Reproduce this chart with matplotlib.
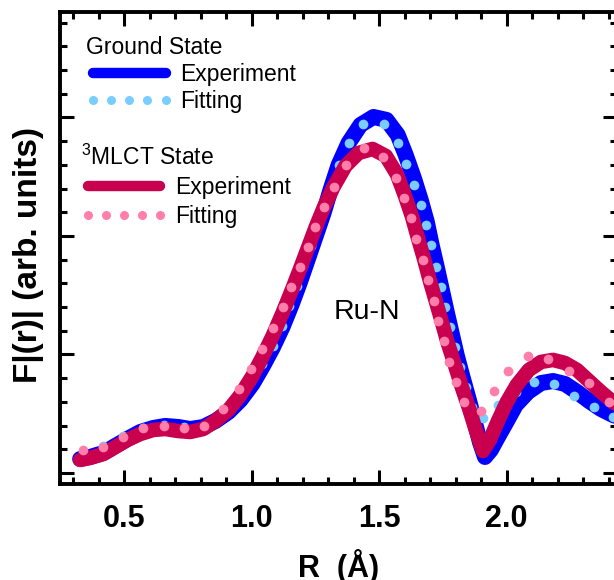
import matplotlib
matplotlib.use('Agg')
import matplotlib.pyplot as plt
from matplotlib.lines import Line2D
from matplotlib.ticker import MultipleLocator, FormatStrFormatter

plt.rcParams['font.family'] = ['Liberation Sans', 'DejaVu Sans']
plt.rcParams['mathtext.fontset'] = 'custom'
plt.rcParams['mathtext.rm'] = 'Liberation Sans'
plt.rcParams['mathtext.it'] = 'Liberation Sans:italic'
plt.rcParams['mathtext.bf'] = 'Liberation Sans:bold'

# Ground state, experiment (thick blue line)
r_gs_exp = [0.327, 0.366, 0.418, 0.465, 0.512, 0.563, 0.614, 0.661, 0.712, 0.759,
            0.810, 0.858, 0.909, 0.956, 1.003, 1.042, 1.082, 1.121, 1.156, 1.188,
            1.219, 1.250, 1.282, 1.309, 1.341, 1.380, 1.427, 1.478, 1.529, 1.573,
            1.604, 1.636, 1.663, 1.687, 1.706, 1.726, 1.746, 1.765, 1.785, 1.805,
            1.828, 1.852, 1.875, 1.895, 1.915, 1.938, 1.966, 1.997, 2.036, 2.084,
            2.135, 2.182, 2.229, 2.276, 2.323, 2.370, 2.417, 2.449]
f_gs_exp = [0.118, 0.135, 0.169, 0.228, 0.287, 0.346, 0.380, 0.397, 0.388, 0.371,
            0.388, 0.439, 0.515, 0.616, 0.751, 0.895, 1.055, 1.232, 1.418, 1.603,
            1.797, 1.992, 2.194, 2.388, 2.599, 2.785, 2.937, 3.004, 2.979, 2.852,
            2.684, 2.489, 2.304, 2.118, 1.924, 1.738, 1.544, 1.359, 1.173, 0.987,
            0.802, 0.616, 0.430, 0.262, 0.135, 0.194, 0.304, 0.422, 0.574, 0.684,
            0.759, 0.776, 0.751, 0.684, 0.608, 0.540, 0.489, 0.464]

# Ground state, fitting (light blue dots)
r_gs_fit = [0.339, 0.418, 0.496, 0.575, 0.657, 0.736, 0.814, 0.889, 0.952, 0.999,
            1.042, 1.082, 1.117, 1.148, 1.176, 1.203, 1.231, 1.258, 1.286, 1.313,
            1.341, 1.380, 1.435, 1.518, 1.573, 1.604, 1.636, 1.663, 1.683, 1.702,
            1.722, 1.742, 1.757, 1.777, 1.797, 1.816, 1.840, 1.863, 1.907, 1.966,
            2.036, 2.107, 2.186, 2.264, 2.343, 2.417]
f_gs_fit = [0.177, 0.228, 0.312, 0.380, 0.405, 0.388, 0.397, 0.506, 0.641, 0.776,
            0.920, 1.072, 1.241, 1.409, 1.578, 1.747, 1.916, 2.084, 2.253, 2.422,
            2.599, 2.785, 2.945, 2.945, 2.785, 2.608, 2.430, 2.262, 2.093, 1.924,
            1.738, 1.570, 1.401, 1.232, 1.063, 0.895, 0.726, 0.557, 0.464, 0.574,
            0.684, 0.768, 0.751, 0.650, 0.557, 0.473]

# 3MLCT state, experiment (thick crimson line)
r_ml_exp = [0.327, 0.366, 0.418, 0.465, 0.512, 0.563, 0.614, 0.661, 0.712, 0.759,
            0.810, 0.858, 0.909, 0.956, 1.003, 1.042, 1.082, 1.121, 1.156, 1.188,
            1.219, 1.250, 1.282, 1.321, 1.368, 1.419, 1.474, 1.526, 1.569, 1.600,
            1.628, 1.651, 1.675, 1.698, 1.722, 1.746, 1.769, 1.797, 1.824, 1.852,
            1.879, 1.907, 1.934, 1.966, 2.001, 2.040, 2.087, 2.135, 2.182, 2.229,
            2.276, 2.323, 2.370, 2.417, 2.449]
f_ml_exp = [0.110, 0.127, 0.160, 0.219, 0.278, 0.329, 0.363, 0.371, 0.354, 0.346,
            0.371, 0.439, 0.532, 0.658, 0.819, 0.979, 1.156, 1.350, 1.536, 1.713,
            1.890, 2.068, 2.236, 2.414, 2.591, 2.700, 2.734, 2.675, 2.523, 2.346,
            2.169, 1.992, 1.814, 1.629, 1.451, 1.274, 1.097, 0.911, 0.726, 0.549,
            0.363, 0.186, 0.278, 0.439, 0.599, 0.743, 0.869, 0.937, 0.954, 0.928,
            0.869, 0.776, 0.684, 0.599, 0.549]

# 3MLCT state, fitting (pink dots)
r_ml_fit = [0.339, 0.418, 0.496, 0.575, 0.657, 0.736, 0.814, 0.889, 0.952, 0.999,
            1.042, 1.082, 1.121, 1.156, 1.188, 1.219, 1.250, 1.282, 1.321, 1.368,
            1.439, 1.514, 1.565, 1.596, 1.624, 1.643, 1.671, 1.691, 1.714, 1.730,
            1.754, 1.773, 1.801, 1.832, 1.899, 1.950, 2.005, 2.084, 2.162, 2.245,
            2.323, 2.402]
f_ml_fit = [0.194, 0.219, 0.304, 0.380, 0.397, 0.380, 0.397, 0.540, 0.709, 0.878,
            1.046, 1.224, 1.401, 1.570, 1.738, 1.907, 2.076, 2.245, 2.414, 2.599,
            2.743, 2.667, 2.489, 2.321, 2.152, 1.975, 1.797, 1.629, 1.451, 1.283,
            1.114, 0.937, 0.768, 0.599, 0.523, 0.692, 0.861, 0.987, 0.962, 0.861,
            0.759, 0.599]

c_blue = '#0000FF'
c_lblue = '#7ACDFF'
c_red = '#C8004E'
c_pink = '#FF7FAA'

fig = plt.figure(figsize=(6.14, 5.8), dpi=100)
ax = fig.add_axes([0.0977, 0.1647, 0.9072, 0.8147])

ax.plot(r_gs_exp, f_gs_exp, color=c_blue, lw=11.5, solid_capstyle='round',
        solid_joinstyle='round', zorder=2)
ax.plot(r_gs_fit, f_gs_fit, ls='none', marker='o', ms=7, mfc=c_lblue, mec='none', zorder=3)
ax.plot(r_ml_exp, f_ml_exp, color=c_red, lw=10.5, solid_capstyle='round',
        solid_joinstyle='round', zorder=4)
ax.plot(r_ml_fit, f_ml_fit, ls='none', marker='o', ms=7, mfc=c_pink, mec='none', zorder=5)

ax.text(1.451, 1.36, 'Ru-N', fontsize=20.5, ha='center', va='center')

ax.set_xlim(0.248, 2.433)
ax.set_ylim(-0.097, 3.89)
ax.xaxis.set_major_locator(MultipleLocator(0.5))
ax.xaxis.set_minor_locator(MultipleLocator(0.1))
ax.xaxis.set_major_formatter(FormatStrFormatter('%.1f'))
ax.yaxis.set_major_locator(MultipleLocator(1))
ax.yaxis.set_minor_locator(MultipleLocator(0.2))
ax.tick_params(which='both', direction='in', top=True, right=True, width=2.2,
               labelleft=False, labelsize=22, pad=14)
ax.tick_params(which='major', length=10)
ax.tick_params(which='minor', length=5)
for lab in ax.get_xticklabels():
    lab.set_fontweight('bold')
for sp in ax.spines.values():
    sp.set_linewidth(2.8)

ax.set_xlabel('R  (\u00c5)', fontsize=22, fontweight='bold', labelpad=11)
ax.set_ylabel('F|(r)| (arb. units)', fontsize=24, fontweight='bold')
ax.yaxis.set_label_coords(-0.029, 0.486)

# two little legends, one per state
gs_handles = [Line2D([], [], color=c_blue, lw=7.5, solid_capstyle='round'),
              Line2D([], [], ls='none', marker='o', ms=6.5, mfc=c_lblue, mec='none')]
ml_handles = [Line2D([], [], color=c_red, lw=7.5, solid_capstyle='round'),
              Line2D([], [], ls='none', marker='o', ms=6.5, mfc=c_pink, mec='none')]
leg1 = ax.legend(gs_handles, ['Experiment', 'Fitting'], title='Ground State',
                 loc='upper left', bbox_to_anchor=(0.0475, 0.9492), frameon=False,
                 fontsize=16.5, title_fontsize=16.5, numpoints=5, handlelength=3.75,
                 handletextpad=0.35, labelspacing=0.17, borderpad=0, borderaxespad=0,
                 alignment='left')
ax.add_artist(leg1)
ax.legend(ml_handles, ['Experiment', 'Fitting'], title='$^{3}$MLCT State',
          loc='upper left', bbox_to_anchor=(0.0375, 0.7186), frameon=False,
          fontsize=16.5, title_fontsize=16.5, numpoints=5, handlelength=3.75,
          handletextpad=0.35, labelspacing=0.27, borderpad=0, borderaxespad=0,
          alignment='left')

fig.savefig('out.png', dpi=100)
